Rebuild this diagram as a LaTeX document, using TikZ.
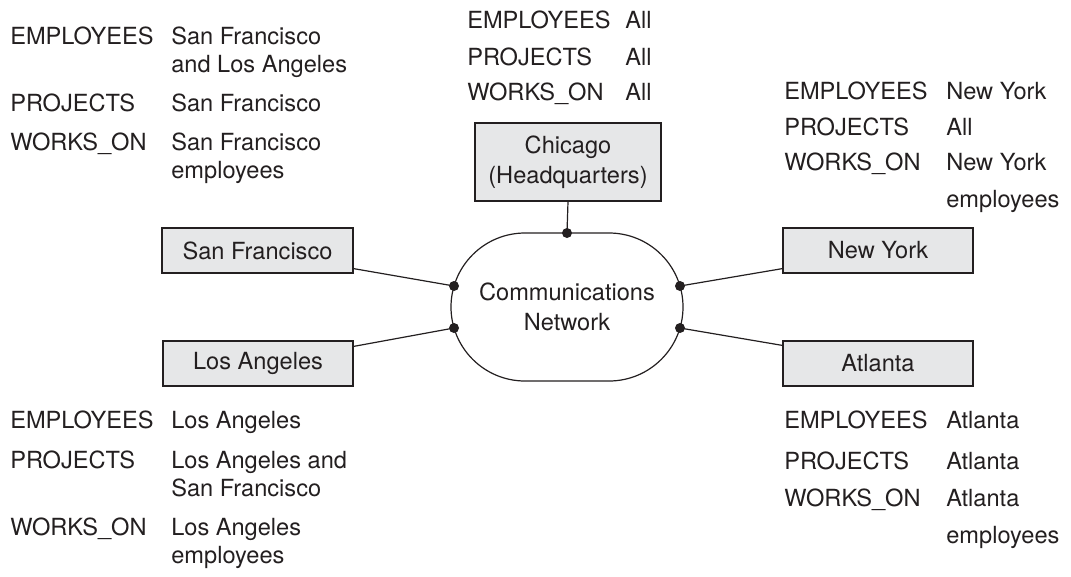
\documentclass[tikz,border=0pt]{standalone}
\usepackage{fontspec}
\setmainfont{TeX Gyre Heros}
\definecolor{boxfill}{RGB}{230,231,232}
\definecolor{ink}{RGB}{35,31,32}
\begin{document}
\begin{tikzpicture}[x=0.75pt,y=0.75pt,
  every node/.style={font=\fontsize{17.7pt}{21.5pt}\selectfont, text=ink},
  txt/.style={anchor=base west, inner sep=0pt},
  site/.style={draw=ink, line width=0.9pt, fill=boxfill, inner sep=0pt, align=center},
  conn/.style={draw=ink, line width=0.9pt},
  dot/.style={circle, fill=ink, inner sep=0pt, minimum size=7.5pt}
]
\useasboundingbox (0,0) rectangle (1071,-576);

% boxes
\node[site, minimum width=186*0.75pt, minimum height=78*0.75pt] (chi) at (568,-162) {Chicago\\[1pt](Headquarters)};
\node[site, minimum width=191*0.75pt, minimum height=45*0.75pt] (sf) at (257.5,-250.5) {San Francisco};
\node[site, minimum width=190*0.75pt, minimum height=45*0.75pt] (la) at (258,-363.5) {Los Angeles};
\node[site, minimum width=190*0.75pt, minimum height=45*0.75pt] (ny) at (878,-250.5) {New York};
\node[site, minimum width=190*0.75pt, minimum height=45*0.75pt] (at) at (878,-363.5) {Atlanta};

% network
\node[draw=ink, line width=0.9pt, rounded corners=55.5pt, minimum width=232*0.75pt, minimum height=148*0.75pt, align=center, inner sep=0pt] (net) at (567,-307) {Communications\\[1pt]Network};

% connection points
\node[dot] (ptop) at (567,-233) {};
\node[dot] (pl1) at (454,-286) {};
\node[dot] (pl2) at (454,-328) {};
\node[dot] (pr1) at (680,-286) {};
\node[dot] (pr2) at (680,-328) {};

% connectors
\draw[conn] (chi.south) -- (ptop.center);
\draw[conn] ([yshift=3.75pt]sf.south east) -- (pl1.center);
\draw[conn] ([yshift=-4.5pt]la.north east) -- (pl2.center);
\draw[conn] ([yshift=3.75pt]ny.south west) -- (pr1.center);
\draw[conn] ([yshift=-3.75pt]at.north west) -- (pr2.center);

% Chicago fragments
\node[txt] (ce1) at (467,-28) {EMPLOYEES};
\node[txt] (cv1) at (625,-28) {All};
\node[txt] (ce2) at (467,-65) {PROJECTS};
\node[txt] (cv2) at (625,-65) {All};
\node[txt] (ce3) at (467,-100) {WORKS\_ON};
\node[txt] (cv3) at (625,-100) {All};

% San Francisco fragments
\node[txt] (se1) at (10,-44) {EMPLOYEES};
\node[txt] (sv1) at (171,-44) {San Francisco};
\node[txt] (sv1b) at (171,-72) {and Los Angeles};
\node[txt] (se2) at (10,-111) {PROJECTS};
\node[txt] (sv2) at (171,-111) {San Francisco};
\node[txt] (se3) at (10,-150) {WORKS\_ON};
\node[txt] (sv3) at (171,-150) {San Francisco};
\node[txt] (sv3b) at (171,-178) {employees};

% New York fragments
\node[txt] (ne1) at (784,-99) {EMPLOYEES};
\node[txt] (nv1) at (946,-99) {New York};
\node[txt] (ne2) at (784,-135) {PROJECTS};
\node[txt] (nv2) at (946,-135) {All};
\node[txt] (ne3) at (784,-170) {WORKS\_ON};
\node[txt] (nv3) at (946,-170) {New York};
\node[txt] (nv3b) at (946,-207) {employees};

% Los Angeles fragments
\node[txt] (le1) at (10,-428) {EMPLOYEES};
\node[txt] (lv1) at (171,-428) {Los Angeles};
\node[txt] (le2) at (10,-468) {PROJECTS};
\node[txt] (lv2) at (171,-468) {Los Angeles and};
\node[txt] (lv2b) at (171,-496) {San Francisco};
\node[txt] (le3) at (10,-535) {WORKS\_ON};
\node[txt] (lv3) at (171,-535) {Los Angeles};
\node[txt] (lv3b) at (171,-563) {employees};

% Atlanta fragments
\node[txt] (ae1) at (784,-428) {EMPLOYEES};
\node[txt] (av1) at (946,-428) {Atlanta};
\node[txt] (ae2) at (784,-469) {PROJECTS};
\node[txt] (av2) at (946,-469) {Atlanta};
\node[txt] (ae3) at (784,-506) {WORKS\_ON};
\node[txt] (av3) at (946,-506) {Atlanta};
\node[txt] (av3b) at (946,-543) {employees};
\end{tikzpicture}
\end{document}
